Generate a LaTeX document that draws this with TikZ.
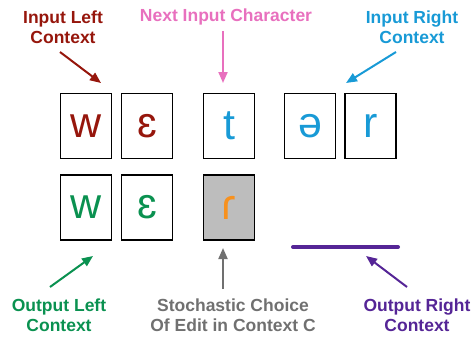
\documentclass[tikz,border=0pt]{standalone}
\usepackage{fontspec}
\setmainfont{Liberation Sans}
\usetikzlibrary{arrows.meta}
\definecolor{cred}{RGB}{150,22,12}
\definecolor{cpink}{RGB}{232,112,190}
\definecolor{cblue}{RGB}{24,154,214}
\definecolor{cgreen}{RGB}{10,145,80}
\definecolor{cgray}{RGB}{112,112,112}
\definecolor{cpurple}{RGB}{85,37,150}
\definecolor{corange}{RGB}{247,145,30}
\definecolor{cfill}{RGB}{189,189,189}
\tikzset{
  charbox/.style={draw=black, line width=1.5pt, minimum width=51pt, minimum height=65pt, inner sep=0pt, font=\fontsize{43}{43}\selectfont},
  lbl/.style={font=\bfseries\fontsize{17.5}{20}\selectfont, align=center},
  arr/.style={line width=2pt, -{Triangle[length=11pt,width=9pt]}}
}
\begin{document}
\begin{tikzpicture}[x=1pt,y=-1pt]
\useasboundingbox (0,0) rectangle (473,337);
% row 1
\node[charbox, text=cred] (a1) at (86,126) {w};
\node[charbox, text=cred] (a2) at (147,126) {ɛ};
\node[charbox, text=cblue] (a3) at (229,126) {t};
\node[charbox, text=cblue] (a4) at (310,126) {ə};
\node[charbox, text=cblue] (a5) at (370.5,126) {r};
% row 2
\node[charbox, text=cgreen] (b1) at (86,207.5) {w};
\node[charbox, text=cgreen] (b2) at (147,207.5) {ɛ};
\node[charbox, fill=cfill, text=corange] (b3) at (229,207.5) {ɾ};
\coordinate (p1) at (293,247);
\coordinate (p2) at (398,247);
\draw[cpurple, line width=4pt, line cap=round] (p1) -- (p2);
% labels
\node[lbl, text=cred] (l1) at (63,27) {Input Left\\Context};
\node[lbl, text=cpink] (l2) at (226,17) {Next Input Character};
\node[lbl, text=cblue] (l3) at (412,27) {Input Right\\Context};
\node[lbl, text=cgreen] (l4) at (59,315) {Output Left\\Context};
\node[lbl, text=cgray] (l5) at (233,315) {Stochastic Choice\\Of Edit in Context C};
\node[lbl, text=cpurple] (l6) at (417,315) {Output Right\\Context};
% arrow endpoints
\coordinate (e1) at (101,83);
\coordinate (e2) at (223,83);
\coordinate (e3) at (346,83);
\coordinate (e4) at (93,256);
\coordinate (e5) at (223,248);
\coordinate (e6) at (366,256);
\coordinate (s1) at (60,52);
\coordinate (s2) at (223,31);
\coordinate (s3) at (396,52);
\coordinate (s4) at (50,287);
\coordinate (s5) at (223,289);
\coordinate (s6) at (407,287);
\draw[arr, cred] (s1) -- (e1);
\draw[arr, cpink] (s2) -- (e2);
\draw[arr, cblue] (s3) -- (e3);
\draw[arr, cgreen] (s4) -- (e4);
\draw[arr, cgray] (s5) -- (e5);
\draw[arr, cpurple] (s6) -- (e6);
\end{tikzpicture}
\end{document}
